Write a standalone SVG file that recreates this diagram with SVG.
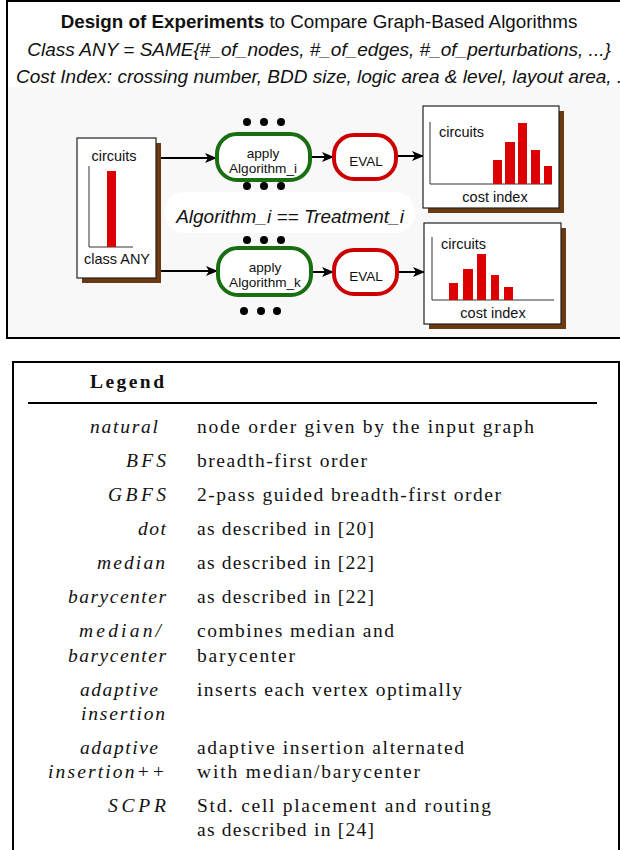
<svg xmlns="http://www.w3.org/2000/svg" width="620" height="850" viewBox="0 0 620 850">
<style>
.sans{font-family:"Liberation Sans",Arial,sans-serif;fill:#111}
.ser{font-family:"Liberation Serif","Times New Roman",serif;fill:#111;font-size:19.5px}
.it{font-style:italic}
.shadow{fill:#6b3a10}
.card{fill:#fff;stroke:#222;stroke-width:1.2}
.axis{stroke:#333;stroke-width:1;fill:none}
.bar{fill:#dd0000}
.green{fill:#fff;stroke:#1a6e12;stroke-width:4}
.red{fill:#fff;stroke:#cc0000;stroke-width:4}
.conn{stroke:#000;stroke-width:2;fill:none;marker-end:url(#ah)}
.dot{fill:#000}
.s14{font-size:14.5px}
.ap{font-size:13.6px}
</style>
<defs>
<marker id="ah" markerWidth="12" markerHeight="10" refX="11" refY="5" orient="auto" markerUnits="userSpaceOnUse">
<path d="M0,0 L12,5 L0,10 L3,5 Z" fill="#000"/>
</marker>
</defs>
<rect x="0" y="0" width="620" height="850" fill="#fff"/>
<g id="top-frame">
<rect x="7" y="87" width="615" height="251" fill="#f8f8f8"/>
<rect x="7" y="1" width="620" height="337" fill="none" stroke="#000" stroke-width="2"/>
</g>
<g id="header">
<text class="sans" x="319" y="28" font-size="18.8" text-anchor="middle"><tspan font-weight="bold">Design of Experiments</tspan> to Compare Graph-Based Algorithms</text>
<text class="sans it" x="319" y="56" font-size="19" text-anchor="middle">Class  ANY = SAME{#_of_nodes, #_of_edges,  #_of_perturbations, ...}</text>
<text class="sans it" x="16" y="83" font-size="19">Cost Index: crossing number, BDD size, logic area &amp; level, layout area, ...</text>
</g>
<g id="label-treatment">
<rect x="164" y="192" width="251" height="41" rx="20" fill="#fff"/>
<text class="sans it" x="290" y="223" font-size="19" text-anchor="middle">Algorithm_i == Treatment_i</text>
</g>
<g id="connectors">
<path class="conn" d="M160,158 H216"/>
<path class="conn" d="M160,271 H217"/>
<path class="conn" d="M310,157 H333"/>
<path class="conn" d="M312,272 H333"/>
<path class="conn" d="M396,156 H423"/>
<path class="conn" d="M398,272 H424"/>
</g>
<g id="class-any">
<rect class="shadow" x="82" y="143" width="79" height="140"/>
<rect class="card" x="77" y="138" width="79" height="140"/>
<text class="sans s14" x="114" y="161" text-anchor="middle">circuits</text>
<path class="axis" d="M89,166 V247 H133"/>
<rect class="bar" x="107" y="171" width="9" height="76"/>
<text class="sans s14" x="117" y="264" text-anchor="middle">class ANY</text>
</g>
<g id="dots">
<circle class="dot" cx="247" cy="122" r="4"/><circle class="dot" cx="264" cy="122" r="4"/><circle class="dot" cx="281" cy="122" r="4"/>
<circle class="dot" cx="247" cy="186" r="4"/><circle class="dot" cx="264" cy="186" r="4"/><circle class="dot" cx="281" cy="186" r="4"/>
<circle class="dot" cx="247" cy="240" r="4"/><circle class="dot" cx="264" cy="240" r="4"/><circle class="dot" cx="281" cy="240" r="4"/>
<circle class="dot" cx="244" cy="311" r="4"/><circle class="dot" cx="261" cy="311" r="4"/><circle class="dot" cx="277" cy="311" r="4"/>
</g>
<g id="algo-i">
<rect class="green" x="217" y="134" width="93" height="46" rx="20"/>
<text class="sans ap" x="263" y="158" text-anchor="middle">apply</text>
<text class="sans ap" x="263" y="173" text-anchor="middle">Algorithm_i</text>
</g>
<g id="algo-k">
<rect class="green" x="218" y="248" width="93" height="47" rx="20"/>
<text class="sans ap" x="265" y="272" text-anchor="middle">apply</text>
<text class="sans ap" x="265" y="287" text-anchor="middle">Algorithm_k</text>
</g>
<g id="eval-i">
<rect class="red" x="334" y="135" width="62" height="44" rx="20"/>
<text class="sans" x="366" y="166" font-size="13.5" text-anchor="middle">EVAL</text>
</g>
<g id="eval-k">
<rect class="red" x="334" y="250" width="63" height="44" rx="20"/>
<text class="sans" x="366" y="281" font-size="13.5" text-anchor="middle">EVAL</text>
</g>
<g id="cost-i">
<rect class="shadow" x="428" y="111" width="136" height="102"/>
<rect class="card" x="423" y="106" width="136" height="102"/>
<path class="axis" d="M430,122 V184 H552"/>
<text class="sans s14" x="439" y="137">circuits</text>
<rect class="bar" x="493" y="160" width="9" height="24"/>
<rect class="bar" x="505" y="142" width="10" height="42"/>
<rect class="bar" x="518" y="123" width="9" height="61"/>
<rect class="bar" x="531" y="150" width="9" height="34"/>
<rect class="bar" x="544" y="166" width="8" height="18"/>
<text class="sans s14" x="495" y="202" text-anchor="middle">cost index</text>
</g>
<g id="cost-k">
<rect class="shadow" x="429" y="228" width="137" height="101"/>
<rect class="card" x="424" y="223" width="137" height="101"/>
<path class="axis" d="M432,237 V300 H554"/>
<text class="sans s14" x="441" y="249">circuits</text>
<rect class="bar" x="449" y="283" width="9" height="17"/>
<rect class="bar" x="463" y="269" width="10" height="31"/>
<rect class="bar" x="477" y="254" width="9" height="46"/>
<rect class="bar" x="491" y="275" width="8" height="25"/>
<rect class="bar" x="504" y="287" width="9" height="13"/>
<text class="sans s14" x="493" y="318" text-anchor="middle">cost index</text>
</g>
<g id="legend">
<rect x="13" y="362" width="606" height="500" fill="none" stroke="#000" stroke-width="2"/>
<text class="ser" x="90" y="388" font-weight="bold" textLength="74">Legend</text>
<line x1="28" y1="403" x2="597" y2="403" stroke="#000" stroke-width="2"/>
<g class="ser it">
<text x="90" y="433" textLength="68">natural</text>
<text x="126" y="467" textLength="40">BFS</text>
<text x="108" y="501" textLength="58">GBFS</text>
<text x="138" y="535" textLength="28">dot</text>
<text x="97" y="569" textLength="68">median</text>
<text x="68" y="603" textLength="98">barycenter</text>
<text x="79" y="637" textLength="82">median/</text>
<text x="68" y="662" textLength="98">barycenter</text>
<text x="80" y="696" textLength="78">adaptive</text>
<text x="81" y="720" textLength="84">insertion</text>
<text x="80" y="754" textLength="78">adaptive</text>
<text x="48" y="778" textLength="117">insertion++</text>
<text x="108" y="812" textLength="58">SCPR</text>
</g>
<g class="ser">
<text x="197" y="433" textLength="337">node order given by the input graph</text>
<text x="197" y="467" textLength="170">breadth-first order</text>
<text x="197" y="501" textLength="304">2-pass guided breadth-first order</text>
<text x="197" y="535" textLength="177">as described in [20]</text>
<text x="197" y="569" textLength="177">as described in [22]</text>
<text x="197" y="603" textLength="177">as described in [22]</text>
<text x="197" y="637" textLength="197">combines median and</text>
<text x="197" y="662" textLength="98">barycenter</text>
<text x="197" y="696" textLength="265">inserts each vertex optimally</text>
<text x="197" y="754" textLength="267">adaptive insertion alternated</text>
<text x="197" y="778" textLength="223">with median/barycenter</text>
<text x="197" y="812" textLength="294">Std. cell placement and routing</text>
<text x="197" y="836" textLength="177">as described in [24]</text>
</g>
</g>
</svg>
